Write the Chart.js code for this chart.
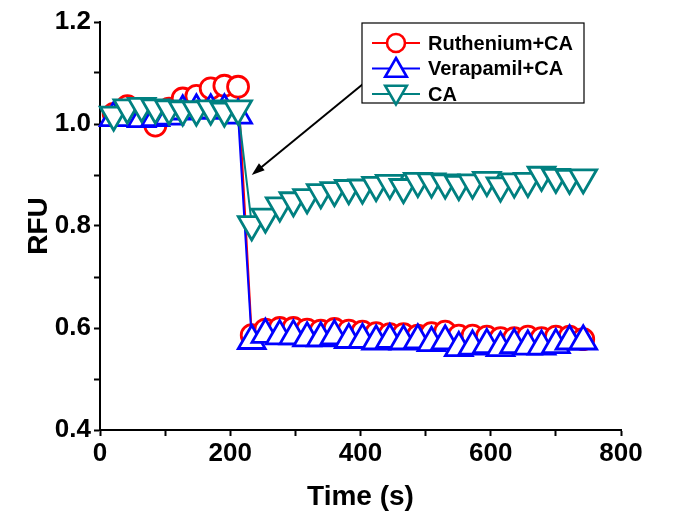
<!DOCTYPE html>
<html><head><meta charset="utf-8">
<script src="https://cdn.jsdelivr.net/npm/chart.js@4/dist/chart.umd.min.js"></script>
<style>html,body{margin:0;padding:0;background:#fff;} #wrap{width:683px;height:521px;position:relative;}</style>
</head><body><div id="wrap"><canvas id="c" width="683" height="521"></canvas></div>
<script>
// ---- data ----
const timeSec = [21,42,64,85,106,127,148,170,191,212,233,254,276,297,318,339,360,382,403,424,445,466,488,509,530,551,572,594,615,636,657,678,700,721,742];
const rutheniumCA = [1.020,1.035,1.020,0.997,1.030,1.050,1.055,1.070,1.075,1.073,
  0.586,0.597,0.600,0.600,0.597,0.595,0.598,0.595,0.593,0.590,0.588,0.588,0.585,0.590,0.593,0.585,0.585,0.583,0.580,0.580,0.583,0.580,0.583,0.583,0.578];
const verapamilCA = [1.012,1.012,1.010,1.012,1.015,1.025,1.027,1.027,1.027,1.017,
  0.575,0.587,0.584,0.584,0.580,0.580,0.584,0.577,0.577,0.574,0.577,0.574,0.576,0.571,0.574,0.561,0.564,0.567,0.561,0.567,0.564,0.564,0.567,0.574,0.574];
const caOnly = [1.018,1.032,1.035,1.032,1.030,1.028,1.028,1.030,1.026,1.030,
  0.803,0.818,0.840,0.850,0.856,0.866,0.870,0.874,0.875,0.880,0.884,0.876,0.888,0.887,0.885,0.882,0.885,0.890,0.879,0.887,0.888,0.900,0.896,0.894,0.895];
const seriesNames = ['Ruthenium+CA','Verapamil+CA','CA'];
const xTickLabels = ['0','200','400','600','800'];
const yTickLabels = ['0.4','0.6','0.8','1.0','1.2'];
const arrowFrom = {t: 409, v: 1.084};
const arrowTo = {t: 233, v: 0.900};

const FONT = "'Liberation Sans', Arial, sans-serif";
const colors = ['#ff0000', '#0000ff', '#008080'];
const styles = [
  {pointStyle: 'circle', radius: 10.5, rotation: 0},
  {pointStyle: 'triangle', radius: 15.5, rotation: 0},
  {pointStyle: 'triangle', radius: 15.5, rotation: 180}
];
const seriesValues = [rutheniumCA, verapamilCA, caOnly];

function pts(vals) { return vals.map((v, i) => ({x: timeSec[i], y: v})); }

function drawMarker(ctx, style, x, y, r, color, bw) {
  ctx.save();
  ctx.lineWidth = bw; ctx.strokeStyle = color; ctx.fillStyle = '#fff';
  ctx.beginPath();
  if (style.pointStyle === 'circle') {
    ctx.arc(x, y, r, 0, Math.PI * 2);
  } else {
    let rad = style.rotation * Math.PI / 180;
    ctx.moveTo(x + Math.sin(rad) * r, y - Math.cos(rad) * r);
    rad += 2 * Math.PI / 3;
    ctx.lineTo(x + Math.sin(rad) * r, y - Math.cos(rad) * r);
    rad += 2 * Math.PI / 3;
    ctx.lineTo(x + Math.sin(rad) * r, y - Math.cos(rad) * r);
    ctx.closePath();
  }
  ctx.fill(); ctx.stroke();
  ctx.restore();
}

const overlay = {
  id: 'overlay',
  afterDraw(chart) {
    const ctx = chart.ctx;
    const xs = chart.scales.x, ys = chart.scales.y;
    // arrow
    const x1 = xs.getPixelForValue(arrowFrom.t), y1 = ys.getPixelForValue(arrowFrom.v);
    const x2 = xs.getPixelForValue(arrowTo.t), y2 = ys.getPixelForValue(arrowTo.v);
    ctx.save();
    ctx.strokeStyle = '#000'; ctx.fillStyle = '#000'; ctx.lineWidth = 2;
    const ang = Math.atan2(y2 - y1, x2 - x1);
    const hl = 13, hw = 4.5;
    ctx.beginPath(); ctx.moveTo(x1, y1);
    ctx.lineTo(x2 - Math.cos(ang) * hl * 0.8, y2 - Math.sin(ang) * hl * 0.8); ctx.stroke();
    ctx.beginPath();
    ctx.moveTo(x2, y2);
    ctx.lineTo(x2 - Math.cos(ang) * hl - Math.sin(ang) * hw, y2 - Math.sin(ang) * hl + Math.cos(ang) * hw);
    ctx.lineTo(x2 - Math.cos(ang) * hl + Math.sin(ang) * hw, y2 - Math.sin(ang) * hl - Math.cos(ang) * hw);
    ctx.closePath(); ctx.fill();
    // legend box
    const bx = 362, by = 23, bw = 222, bh = 80;
    ctx.fillStyle = '#fff'; ctx.fillRect(bx, by, bw, bh);
    ctx.strokeStyle = '#000'; ctx.lineWidth = 1.2; ctx.strokeRect(bx, by, bw, bh);
    ctx.font = 'bold 20px ' + FONT; ctx.textBaseline = 'middle'; ctx.textAlign = 'left';
    for (let i = 0; i < seriesNames.length; i++) {
      const cy = 43 + i * 25.5;
      ctx.strokeStyle = colors[i]; ctx.lineWidth = 2;
      ctx.beginPath(); ctx.moveTo(372, cy); ctx.lineTo(420, cy); ctx.stroke();
      const r = styles[i].pointStyle === 'circle' ? 9 : 12.5;
      drawMarker(ctx, styles[i], 396, cy + (styles[i].pointStyle === 'triangle' ? (styles[i].rotation ? -2 : 2) : 0), r, colors[i], 2.6);
      ctx.fillStyle = '#000';
      ctx.fillText(seriesNames[i], 428, cy + 1);
    }
    ctx.restore();
  }
};

const datasets = seriesNames.map((name, i) => ({
  label: name,
  data: pts(seriesValues[i]),
  borderColor: colors[i],
  borderWidth: 2,
  pointStyle: styles[i].pointStyle,
  pointRotation: styles[i].rotation,
  pointRadius: styles[i].radius,
  pointBorderWidth: 2.8,
  pointBorderColor: colors[i],
  pointBackgroundColor: '#ffffff',
  tension: 0,
  fill: false,
  order: 2 - i,
  clip: false
}));

new Chart(document.getElementById('c'), {
  type: 'line',
  data: {datasets},
  options: {
    responsive: false,
    animation: false,
    events: [],
    layout: {padding: {left: 0, right: 62, top: 22, bottom: 0}},
    plugins: {legend: {display: false}, tooltip: {enabled: false}},
    scales: {
      x: {
        type: 'linear', min: 0, max: 800,
        afterFit: s => { s.height = 91; },
        border: {display: true, color: '#000', width: 2},
        grid: {display: true, drawOnChartArea: false, drawTicks: true, tickLength: 6, tickWidth: 2, tickColor: '#000'},
        ticks: {stepSize: 100, autoSkip: false, maxRotation: 0, padding: 2, color: '#000',
          font: {family: FONT, size: 26, weight: 'bold'},
          callback: v => xTickLabels.includes(String(v)) ? String(v) : ''},
        title: {display: true, text: 'Time (s)', color: '#000', font: {family: FONT, size: 28, weight: 'bold'}, padding: {top: 0, bottom: 7}}
      },
      y: {
        type: 'linear', min: 0.4, max: 1.2,
        afterFit: s => { s.width = 100; },
        border: {display: true, color: '#000', width: 2},
        grid: {display: true, drawOnChartArea: false, drawTicks: true, tickLength: 6, tickWidth: 2, tickColor: '#000'},
        ticks: {stepSize: 0.1, autoSkip: false, padding: 3, color: '#000',
          font: {family: FONT, size: 26, weight: 'bold'},
          callback: v => { const s = Number(v).toFixed(1); return yTickLabels.includes(s) ? s : ''; }},
        title: {display: true, text: 'RFU', color: '#000', font: {family: FONT, size: 28, weight: 'bold'}, padding: {top: 22, bottom: 0}}
      }
    }
  },
  plugins: [overlay]
});
</script></body></html>
